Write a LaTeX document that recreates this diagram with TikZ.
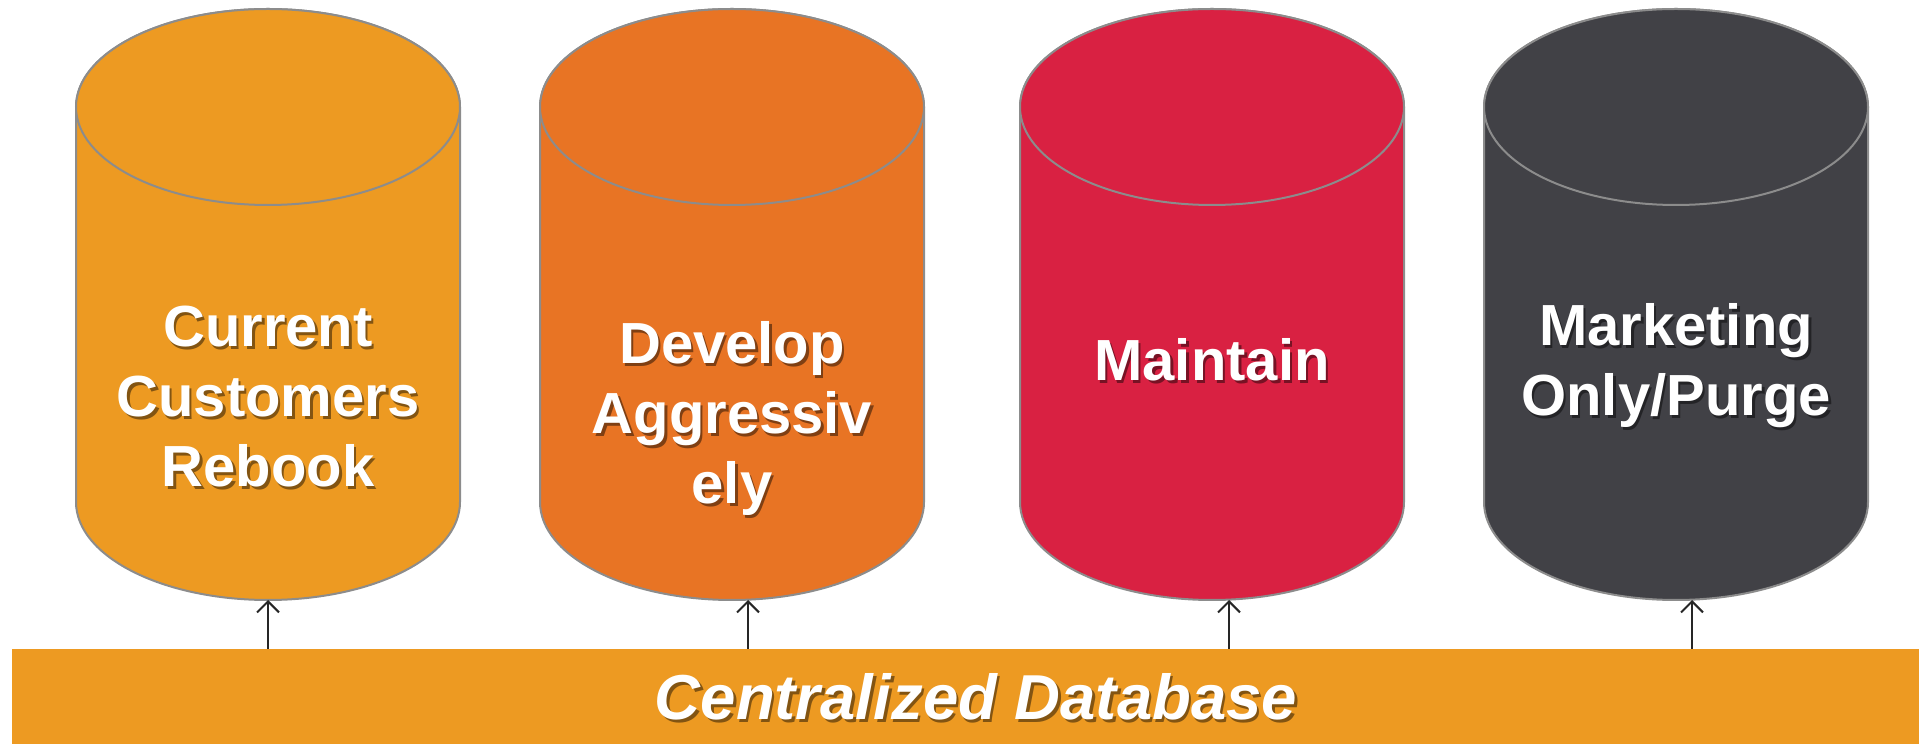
\documentclass[tikz,border=0pt]{standalone}
\usepackage{fontspec}
\setmainfont{Liberation Sans}
\usetikzlibrary{arrows.meta}

\definecolor{dbOrange}{RGB}{237,154,34}
\definecolor{dbDarkOrange}{RGB}{232,116,36}
\definecolor{dbRed}{RGB}{217,33,66}
\definecolor{dbGrey}{RGB}{65,65,70}
\definecolor{rim}{RGB}{140,140,140}

% one cylinder: #1 centre x, #2 colour
\newcommand{\drum}[2]{%
  \path[fill=#2, draw=rim, line width=2pt] (#1-192,637) -- (#1-192,242)
    arc[start angle=180, end angle=360, x radius=192, y radius=98] -- (#1+192,637)
    arc[start angle=0, end angle=180, x radius=192, y radius=98] -- cycle;
  \draw[fill=#2, draw=rim, line width=2pt] (#1,637) ellipse[x radius=192, y radius=98];
}

\begin{document}
\begin{tikzpicture}[x=1pt, y=1pt,
    label/.style={align=center, anchor=base, inner sep=0pt, text=white,
      font=\bfseries\fontsize{58}{70}\selectfont},
    shade/.style={label, text=black, opacity=0.45},
    arr/.style={draw=black!85, line width=2pt, -{Straight Barb[length=11pt, width=22pt]}}]
  \useasboundingbox (0,0) rectangle (1919,744);

  \drum{268}{dbOrange}
  \drum{732}{dbDarkOrange}
  \drum{1212}{dbRed}
  \drum{1676}{dbGrey}

  % base anchor sits on the last line
  \node[shade] (s1) at (270.5,254.5) {Current\\Customers\\Rebook};
  \node[label] (t1) at (268,257) {Current\\Customers\\Rebook};
  \node[shade] (s2) at (734.5,237.5) {Develop\\Aggressiv\\ely};
  \node[label] (t2) at (732,240) {Develop\\Aggressiv\\ely};
  \node[shade] (s3) at (1214.5,360.5) {Maintain};
  \node[label] (t3) at (1212,363) {Maintain};
  \node[shade] (s4) at (1678.5,325.5) {Marketing\\Only/Purge};
  \node[label] (t4) at (1676,328) {Marketing\\Only/Purge};

  % centralized database bar
  \node[fill=dbOrange, minimum width=1907pt, minimum height=95pt, inner sep=0pt] (db) at (965.5,47.5) {};
  \node[anchor=base, inner sep=0pt, text=black, opacity=0.45,
    font=\bfseries\itshape\fontsize{63.5}{70}\selectfont] (dbs) at (978.5,21.5) {Centralized Database};
  \node[anchor=base, inner sep=0pt, text=white,
    font=\bfseries\itshape\fontsize{63.5}{70}\selectfont] (dbt) at (976,24) {Centralized Database};

  \coordinate (b1) at (268,144);
  \coordinate (b2) at (748,144);
  \coordinate (b3) at (1229,144);
  \coordinate (b4) at (1692,144);
  \draw[arr] (db.north -| b1) -- (b1);
  \draw[arr] (db.north -| b2) -- (b2);
  \draw[arr] (db.north -| b3) -- (b3);
  \draw[arr] (db.north -| b4) -- (b4);
\end{tikzpicture}
\end{document}
